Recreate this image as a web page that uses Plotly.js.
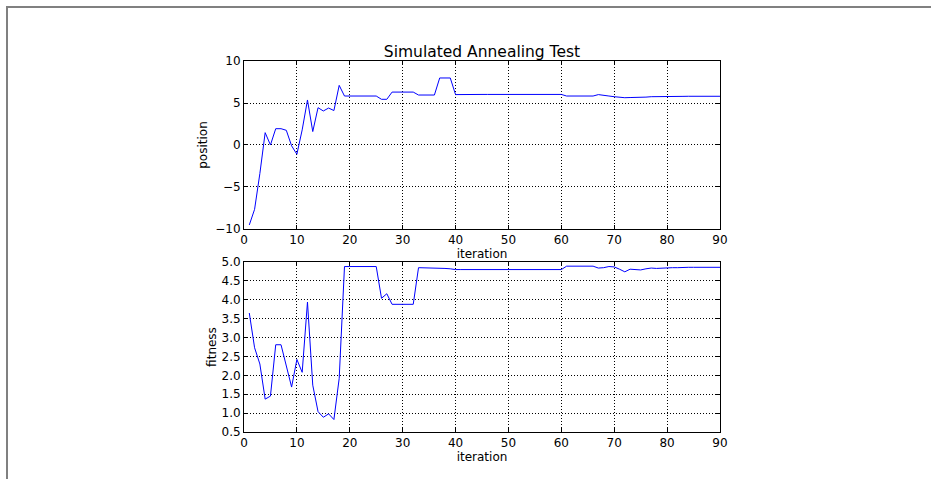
<!DOCTYPE html>
<html>
<head>
<meta charset="utf-8">
<script src="https://cdn.plot.ly/plotly-3.0.1.min.js"></script>
<style>
html,body{margin:0;padding:0;background:#fff;}
#frame{position:absolute;left:6px;top:6px;width:940px;height:480px;border-left:2px solid #808080;border-top:2px solid #808080;}
#chart{position:absolute;left:0;top:0;width:931px;height:479px;}
</style>
</head>
<body>
<div id="frame"></div>
<div id="chart"></div>
<script>
const iterations = [];
for (let i = 1; i <= 90; i++) iterations.push(i);

const position = [
  -9.52, -7.66, -3.4, 1.47, 0.0, 1.94, 1.94, 1.75, -0.1, -1.1,
  1.8, 5.36, 1.6, 4.44, 4.05, 4.4, 4.1, 7.1, 5.83, 5.83,
  5.83, 5.83, 5.83, 5.83, 5.83, 5.44, 5.44, 6.3, 6.3, 6.3,
  6.3, 6.3, 5.95, 5.95, 5.95, 5.95, 7.98, 7.98, 7.98, 6.0,
  6.02, 6.02, 6.02, 6.02, 6.02, 6.02, 6.02, 6.02, 6.02, 6.02,
  6.02, 6.02, 6.02, 6.02, 6.02, 6.02, 6.02, 6.02, 6.02, 6.02,
  5.83, 5.83, 5.83, 5.83, 5.83, 5.83, 6.0, 5.95, 5.83, 5.75,
  5.67, 5.63, 5.65, 5.65, 5.66, 5.7, 5.75, 5.77, 5.78, 5.79,
  5.79, 5.79, 5.79, 5.8, 5.8, 5.8, 5.8, 5.8, 5.8, 5.8
];

const fitness = [
  3.65, 2.73, 2.30, 1.37, 1.45, 2.81, 2.81, 2.27, 1.69, 2.42,
  2.08, 3.94, 1.74, 1.04, 0.89, 0.98, 0.83, 1.92, 4.88, 4.88,
  4.88, 4.88, 4.88, 4.88, 4.88, 4.04, 4.16, 3.88, 3.88, 3.88,
  3.88, 3.88, 4.85, 4.85, 4.85, 4.84, 4.84, 4.83, 4.82, 4.80,
  4.80, 4.80, 4.80, 4.80, 4.80, 4.80, 4.80, 4.80, 4.80, 4.80,
  4.80, 4.80, 4.80, 4.80, 4.80, 4.80, 4.80, 4.80, 4.80, 4.80,
  4.89, 4.89, 4.89, 4.89, 4.89, 4.89, 4.84, 4.85, 4.88, 4.87,
  4.81, 4.74, 4.81, 4.80, 4.79, 4.82, 4.84, 4.83, 4.84, 4.84,
  4.85, 4.85, 4.86, 4.86, 4.86, 4.86, 4.86, 4.86, 4.86, 4.86
];

const xTicks = [0, 10, 20, 30, 40, 50, 60, 70, 80, 90];
const posTicks = [-10, -5, 0, 5, 10];
const fitTicks = [0.5, 1.0, 1.5, 2.0, 2.5, 3.0, 3.5, 4.0, 4.5, 5.0];
const fitTickText = ['0.5','1.0','1.5','2.0','2.5','3.0','3.5','4.0','4.5','5.0'];

const font = {family: 'DejaVu Sans, sans-serif', size: 12, color: '#000'};

const axisCommon = {
  showline: true, linecolor: '#000', linewidth: 1, mirror: 'ticks',
  ticks: 'inside', ticklen: 4, tickcolor: '#000', tickwidth: 1,
  showgrid: true, gridcolor: '#000', gridwidth: 1, griddash: '1px,2px',
  zeroline: false, tickfont: font, automargin: false
};

const traces = [
  {x: iterations, y: position, type: 'scatter', mode: 'lines',
   line: {color: '#0000ff', width: 1}, xaxis: 'x', yaxis: 'y', hoverinfo: 'none'},
  {x: iterations, y: fitness, type: 'scatter', mode: 'lines',
   line: {color: '#0000ff', width: 1}, xaxis: 'x2', yaxis: 'y2', hoverinfo: 'none'}
];

const layout = {
  width: 931, height: 479,
  paper_bgcolor: 'rgba(0,0,0,0)', plot_bgcolor: '#fff',
  margin: {l: 244, r: 211, t: 61, b: 47},
  showlegend: false,
  font: font,
  title: {text: 'Simulated Annealing Test', font: {family: 'DejaVu Sans, sans-serif', size: 15.5, color: '#000'},
          x: 0.5177, xanchor: 'center', y: 0.893, yanchor: 'middle'},
  xaxis: Object.assign({}, axisCommon, {
    domain: [0, 1], anchor: 'y', range: [0, 90], tickvals: xTicks,
    title: {text: 'iteration', font: font, standoff: 2}
  }),
  yaxis: Object.assign({}, axisCommon, {
    domain: [0.5472, 1], anchor: 'x', range: [-10, 10], tickvals: posTicks,
    title: {text: 'position', font: font, standoff: 5}
  }),
  xaxis2: Object.assign({}, axisCommon, {
    domain: [0, 1], anchor: 'y2', range: [0, 90], tickvals: xTicks,
    title: {text: 'iteration', font: font, standoff: 2}
  }),
  yaxis2: Object.assign({}, axisCommon, {
    domain: [0, 0.4582], anchor: 'x2', range: [0.5, 5.0], tickvals: fitTicks, ticktext: fitTickText,
    title: {text: 'fitness', font: font, standoff: 2}
  })
};

Plotly.newPlot('chart', traces, layout, {displayModeBar: false, staticPlot: true});
</script>
</body>
</html>
